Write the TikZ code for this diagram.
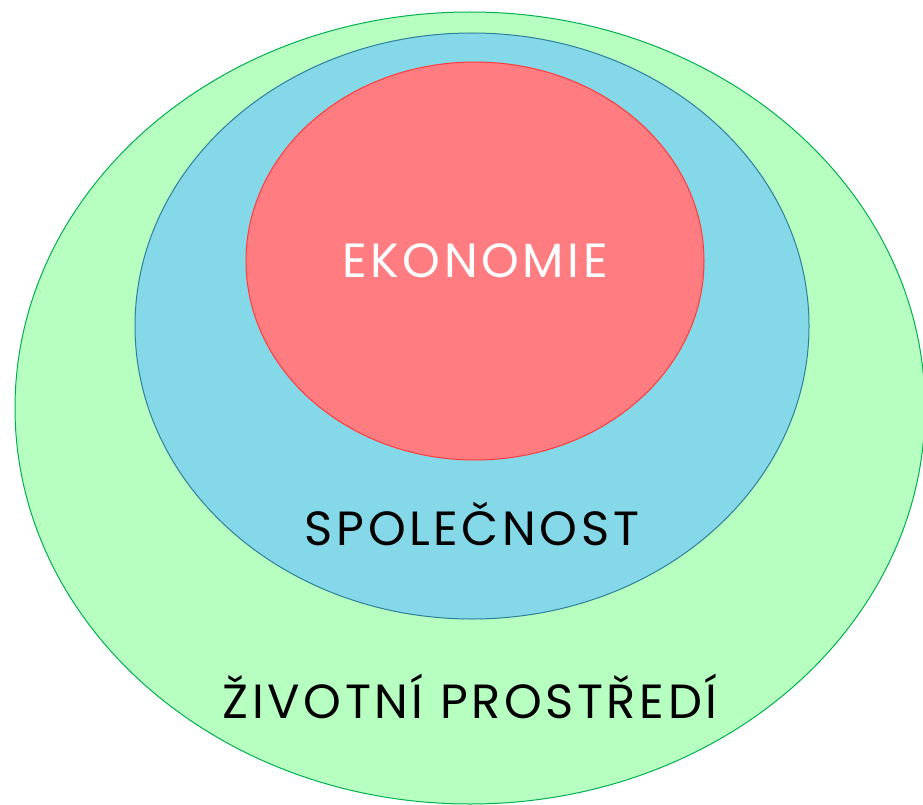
\documentclass[tikz,border=0pt]{standalone}
\usepackage{fontspec}
\setmainfont{Poppins}[LetterSpace=7.5]
\usetikzlibrary{shapes.geometric,calc}
\definecolor{envfill}{HTML}{B6FFC1}
\definecolor{envline}{HTML}{00B050}
\definecolor{socfill}{HTML}{85D8E8}
\definecolor{socline}{HTML}{2F7F9A}
\definecolor{ecofill}{HTML}{FF7C80}
\definecolor{ecoline}{HTML}{FF3B3B}
\begin{document}
\begin{tikzpicture}[x=1pt,y=-1pt,
  ring/.style={ellipse,inner sep=0pt,outer sep=0pt,line width=1pt},
  ringtext/.style={inner sep=0pt,font=\fontsize{48}{48}\selectfont}]
\useasboundingbox (0,0) rectangle (923,805);
\node[ring,draw=envline,fill=envfill,minimum width=910pt,minimum height=792pt] at (470,408) (env) {};
\node[ring,draw=socline,fill=socfill,minimum width=674pt,minimum height=586pt] at (472,326) (soc) {};
\node[ring,draw=ecoline,fill=ecofill,minimum width=458pt,minimum height=398pt] at (475,261) (eco) {};
\node[ringtext,text=white] at (eco.center) (ekon) {EKONOMIE};
\node[ringtext,anchor=base] at ($(soc.south)+(0,-74)$) (spol) {SPOLEČNOST};
\node[ringtext,anchor=base] at ($(env.south)+(0,-86)$) (zp) {ŽIVOTNÍ PROSTŘEDÍ};
\end{tikzpicture}
\end{document}
